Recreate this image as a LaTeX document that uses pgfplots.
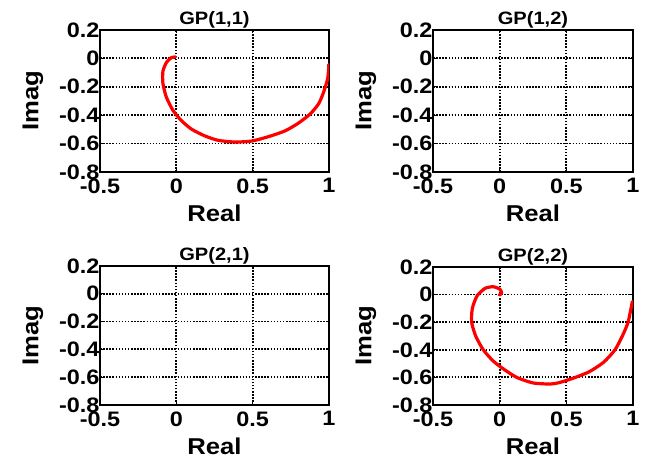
\documentclass[border=0pt]{standalone}
\usepackage{fontspec}
\setmainfont{Liberation Sans}[FakeStretch=1.12]
\usepackage{pgfplots}
\pgfplotsset{compat=1.18}
\pgfplotsset{
  myax/.style={
    scale only axis,
    anchor=south west,
    xmin=-0.5, xmax=1, ymin=-0.8, ymax=0.2,
    xtick={-0.5,0,0.5,1},
    ytick={-0.8,-0.6,-0.4,-0.2,0,0.2},
    /pgf/number format/assume math mode=true,
    /pgf/number format/fixed,
    grid=major,
    major grid style={black, line width=1.8bp, dash pattern=on 1.5bp off 1.6bp},
    axis line style={black, line width=2.8bp},
    tick align=inside,
    major tick length=3bp,
    tick style={black, line width=1bp},
    tick label style={font=\fontsize{21}{21}\selectfont\bfseries},
    label style={font=\fontsize{23}{23}\selectfont\bfseries},
    title style={font=\fontsize{18}{18}\selectfont\bfseries, yshift=-8bp},
    xticklabel style={yshift=-3bp},
    yticklabel style={xshift=3bp},
    xlabel={Real}, ylabel={Imag},
    xlabel style={yshift=-5bp},
    ylabel style={yshift=9bp},
  },
  curve/.style={red, line width=3.2bp, line join=round, line cap=round, smooth, tension=0.4},
}
\begin{document}
\begin{tikzpicture}
\path[use as bounding box] (0,0) rectangle (648bp,461bp);
% GP(1,1)
\begin{axis}[myax, at={(100bp,289bp)}, width=229bp, height=142bp, title={GP(1,1)}]
\addplot[curve] coordinates {
(0.999,-0.043) (0.992,-0.138) (0.966,-0.234) (0.933,-0.318) (0.878,-0.39)
(0.801,-0.455) (0.713,-0.51) (0.604,-0.551) (0.494,-0.582) (0.384,-0.589)
(0.274,-0.577) (0.187,-0.546) (0.099,-0.498) (0.033,-0.438) (-0.022,-0.366)
(-0.066,-0.271) (-0.088,-0.175) (-0.088,-0.091) (-0.066,-0.031) (-0.033,0.005)
(-0.005,0.01)
};
\end{axis}
% GP(1,2)
\begin{axis}[myax, at={(433bp,289bp)}, width=200bp, height=142bp, title={GP(1,2)}]
\end{axis}
% GP(2,1)
\begin{axis}[myax, at={(100bp,56bp)}, width=229bp, height=139bp, title={GP(2,1)}]
\end{axis}
% GP(2,2)
\begin{axis}[myax, at={(433bp,56bp)}, width=200bp, height=138bp, title={GP(2,2)}]
\addplot[curve] coordinates {
(0.995,-0.05) (0.963,-0.2) (0.92,-0.3) (0.865,-0.4) (0.78,-0.49) (0.67,-0.56)
(0.553,-0.605) (0.45,-0.637) (0.38,-0.648) (0.25,-0.64) (0.128,-0.6)
(0.03,-0.54) (-0.05,-0.48) (-0.123,-0.4) (-0.18,-0.3) (-0.21,-0.2)
(-0.205,-0.1) (-0.17,-0.01) (-0.11,0.045) (-0.048,0.057) (0.003,0.038)
(0.015,0.01) (-0.003,-0.003)
};
\end{axis}
\end{tikzpicture}
\end{document}
